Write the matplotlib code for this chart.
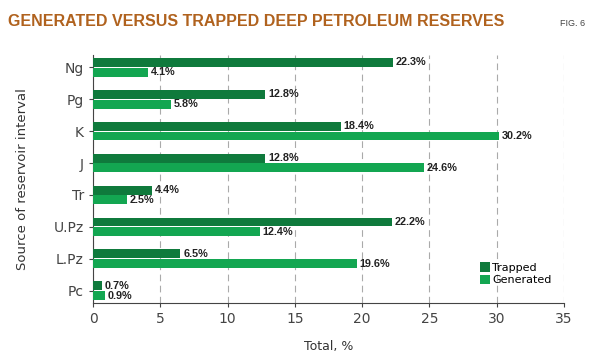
import matplotlib
matplotlib.use("Agg")
import matplotlib.pyplot as plt
import numpy as np

categories = ["Ng", "Pg", "K", "J", "Tr", "U.Pz", "L.Pz", "Pc"]
trapped = [22.3, 12.8, 18.4, 12.8, 4.4, 22.2, 6.5, 0.7]
generated = [4.1, 5.8, 30.2, 24.6, 2.5, 12.4, 19.6, 0.9]

dark = "#0f7a3c"
light = "#13a651"

fig = plt.figure(figsize=(6, 3.58), dpi=100)
ax = fig.add_axes([0.155, 0.154, 0.785, 0.692])

y = np.arange(len(categories))
h = 0.28
ax.barh(y - 0.155, trapped, height=h, color=dark, label="Trapped", zorder=3)
ax.barh(y + 0.155, generated, height=h, color=light, label="Generated", zorder=3)

lab = dict(fontsize=7.8, fontweight="bold", family="Liberation Sans", color="#222222", va="center")
for i in range(len(categories)):
    ax.text(trapped[i] + 0.2, y[i] - 0.165, f"{trapped[i]}%", **lab)
    ax.text(generated[i] + 0.2, y[i] + 0.165, f"{generated[i]}%", **lab)

ax.set_xlim(0, 35)
ax.set_ylim(7.375, -0.375)
ax.set_xticks(range(0, 36, 5))
ax.set_yticks(y)
ax.set_yticklabels(categories)
ax.xaxis.grid(True, linestyle=(0, (6, 4)), color="#aaaaaa", linewidth=0.8, zorder=0)
for s in ["top", "right"]:
    ax.spines[s].set_visible(False)
ax.spines["left"].set_color("#444444")
ax.spines["bottom"].set_color("#444444")
ax.tick_params(labelsize=10, colors="#444444", length=3)
ax.set_xlabel("Total, %", fontsize=9, color="#333333", labelpad=10)
ax.set_ylabel("Source of reservoir interval", fontsize=9.5, color="#333333", labelpad=18)

ax.legend(loc="lower right", bbox_to_anchor=(0.995, 0.03), frameon=False, fontsize=8,
          handlelength=0.9, handleheight=0.9, handletextpad=0.2, labelspacing=0.2)

fig.text(0.013, 0.94, "GENERATED VERSUS TRAPPED DEEP PETROLEUM RESERVES", fontsize=11.5,
         fontweight="bold", family="Liberation Sans", color="#b0621e", va="center")
fig.text(0.975, 0.935, "FIG. 6", fontsize=6.5, family="Liberation Sans", color="#444444",
         ha="right", va="center")

fig.savefig("out.png", dpi=100)
